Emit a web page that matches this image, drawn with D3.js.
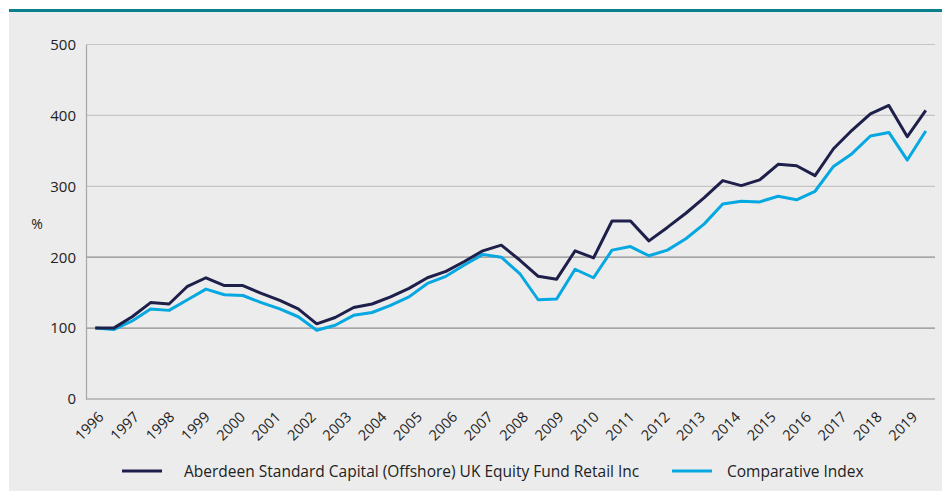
<!DOCTYPE html>
<html>
<head>
<meta charset="utf-8">
<script src="https://cdnjs.cloudflare.com/ajax/libs/d3/7.8.5/d3.min.js"></script>
<style>
  body { margin: 0; background: #ffffff; }
  svg { display: block; font-family: 'Open Sans', 'Noto Sans', sans-serif; }
</style>
</head>
<body>
<svg></svg>
<script>
// Year labels along the bottom
let years = ['1996', '1997', '1998', '1999', '2000', '2001', '2002', '2003', '2004', '2005', '2006', '2007',
             '2008', '2009', '2010', '2011', '2012', '2013', '2014', '2015', '2016', '2017', '2018', '2019']

// Half-yearly values, rebased to 100
let fundValues = [100, 100, 116, 136, 134, 159, 171, 160, 160, 149, 139, 127, 106, 115, 129, 134,
                  144, 156, 171, 180, 194, 209, 217, 196, 173, 169, 209, 199, 251, 251, 223, 242,
                  262, 284, 308, 301, 309, 331, 329, 315, 353, 379, 402, 414, 370, 407]

let indexValues = [100, 98, 110, 127, 125, 140, 155, 147, 146, 136, 127, 116, 97, 104, 118, 122,
                   132, 144, 163, 173, 189, 204, 200, 177, 140, 141, 183, 171, 210, 215, 202, 210,
                   226, 247, 275, 279, 278, 286, 281, 293, 328, 346, 371, 376, 337, 378]

let yTicks = [0, 100, 200, 300, 400, 500]

let seriesNames = ['Aberdeen Standard Capital (Offshore) UK Equity Fund Retail Inc', 'Comparative Index']
let seriesColors = ['#1e1f4b', '#05a8e0']

// Dimensions
let width = 942
let height = 491
let plotLeft = 86
let plotRight = 935
let plotTop = 44.5
let plotBottom = 399

let svg = d3.select('svg')
    .attr('width', width)
    .attr('height', height)

let xScale
let bandScale
let yScale

let generateScales = () => {
    // one slot per half-year point, drawn in the middle of the slot
    xScale = d3.scalePoint()
                .domain(d3.range(fundValues.length))
                .range([plotLeft, plotRight])
                .padding(0.5)

    bandScale = d3.scaleBand()
                .domain(years)
                .range([plotLeft, plotRight])

    yScale = d3.scaleLinear()
                .domain([0, 500])
                .range([plotBottom, plotTop])
}

let drawBoard = () => {
    svg.append('rect')
        .attr('x', 9).attr('y', 12)
        .attr('width', width - 9).attr('height', height - 12)
        .attr('fill', '#ececec')

    svg.append('rect')
        .attr('x', 9).attr('y', 9)
        .attr('width', width - 9).attr('height', 3)
        .attr('fill', '#0a808d')
}

let drawAxes = () => {
    // gridlines; the lower three are darker than the upper ones
    svg.selectAll('.grid')
        .data(yTicks)
        .enter()
        .append('line')
        .attr('class', 'grid')
        .attr('x1', plotLeft)
        .attr('x2', plotRight)
        .attr('y1', (d) => yScale(d))
        .attr('y2', (d) => yScale(d))
        .attr('stroke', (d) => d <= 200 ? '#8e8e8e' : '#c4c4c4')
        .attr('stroke-width', 1.2)

    let yAxis = d3.axisLeft(yScale)
                    .tickValues(yTicks)
                    .tickSize(0)
                    .tickPadding(10)

    let yG = svg.append('g')
        .attr('transform', 'translate(' + plotLeft + ', 0)')
        .call(yAxis)
    yG.select('.domain').attr('stroke', '#a6a6a6').attr('stroke-width', 1.2)
    yG.selectAll('text')
        .attr('font-size', 15)
        .attr('font-family', "'Open Sans', sans-serif")
        .attr('fill', '#222222')

    svg.append('text')
        .attr('x', 37)
        .attr('y', 229)
        .attr('text-anchor', 'middle')
        .attr('font-size', 14)
        .attr('fill', '#222222')
        .text('%')

    svg.selectAll('.year')
        .data(years)
        .enter()
        .append('text')
        .attr('class', 'year')
        .attr('text-anchor', 'end')
        .attr('font-size', 14.5)
        .attr('fill', '#222222')
        .attr('transform', (d) => 'translate(' + (bandScale(d) + bandScale.bandwidth() / 2 + 1) + ', 418) rotate(-45)')
        .text((d) => d)
}

let drawLines = () => {
    let line = d3.line()
                .x((d, i) => xScale(i))
                .y((d) => yScale(d))

    // index first so the fund line sits on top
    let all = [indexValues, fundValues]
    let colors = [seriesColors[1], seriesColors[0]]

    svg.selectAll('.series')
        .data(all)
        .enter()
        .append('path')
        .attr('class', 'series')
        .attr('d', (d) => line(d))
        .attr('fill', 'none')
        .attr('stroke', (d, i) => colors[i])
        .attr('stroke-width', 3)
        .attr('stroke-linejoin', 'round')
}

let drawLegend = () => {
    let legendX = [122, 672]
    let textX = [184, 727]

    seriesNames.forEach((name, i) => {
        svg.append('line')
            .attr('x1', legendX[i]).attr('x2', legendX[i] + 40)
            .attr('y1', 471).attr('y2', 471)
            .attr('stroke', seriesColors[i])
            .attr('stroke-width', 3)

        svg.append('text')
            .attr('class', 'legend-text')
            .attr('x', textX[i])
            .attr('y', 476.5)
            .attr('font-size', 15.5)
            .attr('fill', '#222222')
            .text(name)
    })
}

generateScales()
drawBoard()
drawAxes()
drawLines()
drawLegend()
</script>
</body>
</html>
